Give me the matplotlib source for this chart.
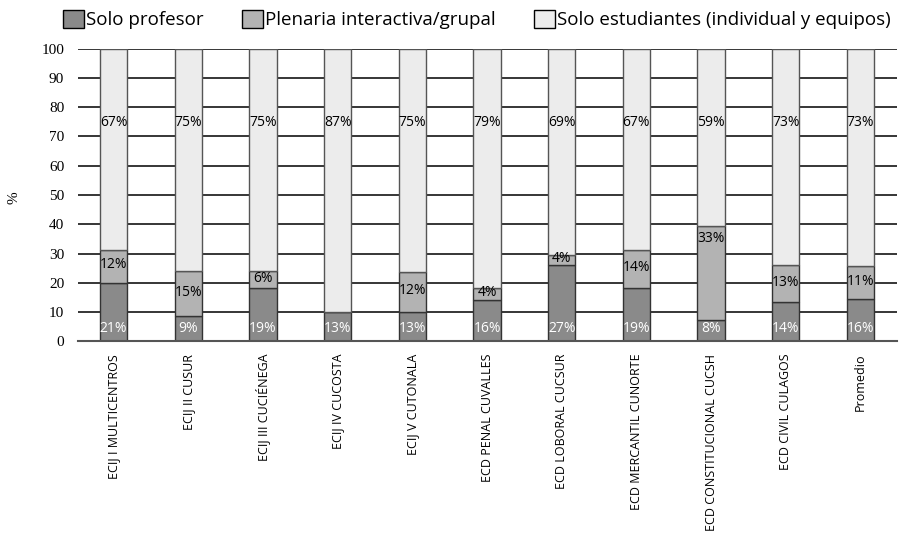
import matplotlib
matplotlib.use("Agg")
import matplotlib.pyplot as plt
import numpy as np
from matplotlib.patches import Patch

categorias = ["ECIJ I MULTICENTROS", "ECIJ II CUSUR", "ECIJ III CUCIÉNEGA",
              "ECIJ IV CUCOSTA", "ECIJ V CUTONALA", "ECD PENAL CUVALLES",
              "ECD LOBORAL CUCSUR", "ECD MERCANTIL CUNORTE",
              "ECD CONSTITUCIONAL CUCSH", "ECD CIVIL CULAGOS", "Promedio"]

# alturas de las barras tal como se ven en la gráfica
solo_profesor = [20.0, 8.8, 18.2, 10.0, 10.0, 14.2, 26.1, 18.1, 7.4, 13.3, 14.5]
plenaria = [11.3, 15.1, 5.7, 0.0, 13.6, 4.0, 3.3, 13.2, 32.1, 12.7, 11.1]
solo_estudiantes = [100 - a - b for a, b in zip(solo_profesor, plenaria)]

# etiquetas impresas en la gráfica
etq_profesor = [21, 9, 19, 13, 13, 16, 27, 19, 8, 14, 16]
etq_plenaria = [12, 15, 6, None, 12, 4, 4, 14, 33, 13, 11]
etq_estudiantes = [67, 75, 75, 87, 75, 79, 69, 67, 59, 73, 73]

c_prof = "#8a8a8a"
c_plen = "#b3b3b3"
c_est = "#ececec"
borde = "#333333"

plt.rcParams["font.family"] = ["Open Sans", "DejaVu Sans"]

fig = plt.figure(figsize=(9.08, 5.41), dpi=100)
ax = fig.add_axes([0.086, 0.369, 0.902, 0.541])

x = np.arange(len(categorias))
w = 0.365
ax.set_axisbelow(True)
ax.yaxis.grid(True, color="black", linewidth=1.1)

ax.bar(x, solo_profesor, w, color=c_prof, edgecolor=borde, linewidth=1)
ax.bar(x, plenaria, w, bottom=solo_profesor, color=c_plen, edgecolor=borde, linewidth=1)
base2 = [a + b for a, b in zip(solo_profesor, plenaria)]
ax.bar(x, solo_estudiantes, w, bottom=base2, color=c_est, edgecolor="#555555", linewidth=1)

for i in range(len(categorias)):
    ax.text(x[i], 4.5, f"{etq_profesor[i]}%", ha="center", va="center",
            color="white", fontsize=10)
    if etq_plenaria[i] is not None:
        if plenaria[i] > 25:
            yy = base2[i] - 4.5
        else:
            yy = solo_profesor[i] + plenaria[i] / 2 + 0.5
        ax.text(x[i], yy, f"{etq_plenaria[i]}%", ha="center", va="center",
                color="black", fontsize=10)
    ax.text(x[i], 74.8, f"{etq_estudiantes[i]}%", ha="center", va="center",
            color="black", fontsize=10)

ax.set_xlim(-0.475, 10.49)
ax.set_ylim(0, 100)
ax.set_yticks(range(0, 101, 10))
ax.set_xticks(x)
ax.set_xticklabels(categorias, rotation=90, va="top")
ax.tick_params(axis="both", length=0)
ax.tick_params(axis="y", pad=10, labelsize=11)
ax.tick_params(axis="x", pad=9, labelsize=9)
for t in ax.get_yticklabels():
    t.set_fontfamily(["Liberation Serif", "DejaVu Serif"])
for s in ["top", "right", "left"]:
    ax.spines[s].set_visible(False)
ax.spines["bottom"].set_color("#555555")
ax.spines["bottom"].set_linewidth(1.5)

ax.set_ylabel("%", family="Liberation Serif", fontsize=11)
ax.yaxis.set_label_coords(-0.07, 0.49)

handles = [Patch(facecolor=c_prof, edgecolor="black"),
           Patch(facecolor=c_plen, edgecolor="black"),
           Patch(facecolor=c_est, edgecolor="black")]
nombres = ["Solo profesor", "Plenaria interactiva/grupal",
           "Solo estudiantes (individual y equipos)"]
fig.legend(handles, nombres, ncol=3, loc="upper right",
           bbox_to_anchor=(1.0, 1.012), frameon=False, fontsize=13.5,
           handlelength=1.15, handleheight=1.05, handletextpad=0.12,
           columnspacing=2.0)

fig.savefig("out.png", dpi=100)
